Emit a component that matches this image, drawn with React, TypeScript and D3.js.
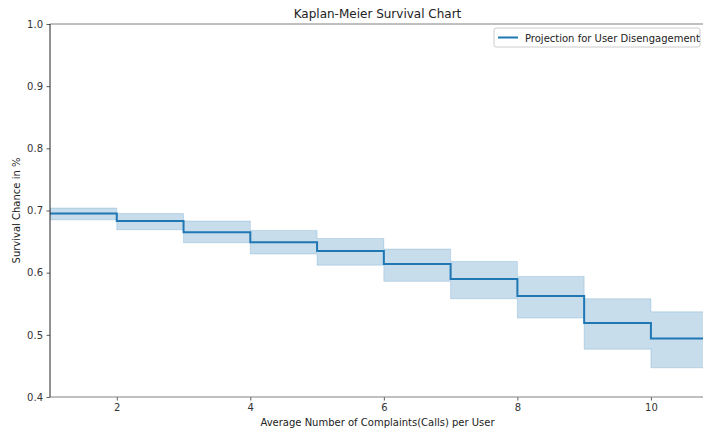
import { useEffect, useRef } from 'react';
import * as d3 from 'd3';

// Kaplan-Meier estimate
const timeline = [1, 2, 3, 4, 5, 6, 7, 8, 9, 10, 11];
const survival = [0.695, 0.683, 0.665, 0.649, 0.635, 0.614, 0.590, 0.5625, 0.519, 0.494, 0.494];
const ciUpper = [0.704, 0.695, 0.683, 0.668, 0.655, 0.638, 0.618, 0.594, 0.558, 0.537, 0.537];
const ciLower = [0.685, 0.669, 0.648, 0.630, 0.612, 0.586, 0.558, 0.527, 0.477, 0.447, 0.447];
const xTicks = [2, 4, 6, 8, 10];
const yTicks = [0.4, 0.5, 0.6, 0.7, 0.8, 0.9, 1.0];
const seriesLabel = 'Projection for User Disengagement';

const C0 = '#1f77b4';
const FONT = 'DejaVu Sans, sans-serif';

export default function App() {
  const svgRef = useRef<SVGSVGElement>(null);

  useEffect(() => {
    const svg = d3.select(svgRef.current);
    svg.selectAll('*').remove();

    const W = 703;
    const H = 431;
    const left = 50, right = 705, top = 24, bottom = 397;

    const x = d3.scaleLinear().domain([1, 10.78]).range([left, 703]);
    const y = d3.scaleLinear().domain([0.4, 1.0]).range([bottom, top]);

    svg.attr('width', W).attr('height', H);

    svg.append('rect').attr('width', W).attr('height', H).attr('fill', '#fff');

    svg.append('defs').append('clipPath').attr('id', 'plot-clip')
      .append('rect').attr('x', left).attr('y', top)
      .attr('width', right - left).attr('height', bottom - top);

    const rows = timeline.map((t, i) => ({ t, s: survival[i], hi: ciUpper[i], lo: ciLower[i] }));

    const plot = svg.append('g').attr('clip-path', 'url(#plot-clip)');

    // confidence band
    const band = d3.area<any>()
      .x(d => x(d.t))
      .y0(d => y(d.lo))
      .y1(d => y(d.hi))
      .curve(d3.curveStepAfter);

    plot.append('path')
      .datum(rows)
      .attr('d', band)
      .attr('fill', C0)
      .attr('fill-opacity', 0.25)
      .attr('stroke', C0)
      .attr('stroke-opacity', 0.2)
      .attr('stroke-width', 1);

    // survival line
    const line = d3.line<any>()
      .x(d => x(d.t))
      .y(d => y(d.s))
      .curve(d3.curveStepAfter);

    plot.append('path')
      .datum(rows)
      .attr('d', line)
      .attr('fill', 'none')
      .attr('stroke', C0)
      .attr('stroke-width', 2);

    // axes
    const xAxis = svg.append('g')
      .attr('transform', `translate(0,${bottom})`)
      .call(d3.axisBottom(x).tickValues(xTicks).tickSize(3.5).tickPadding(3.5).tickFormat(d3.format('d')));
    const yAxis = svg.append('g')
      .attr('transform', `translate(${left},0)`)
      .call(d3.axisLeft(y).tickValues(yTicks).tickSize(3.5).tickPadding(3.5).tickFormat(d3.format('.1f')));

    [xAxis, yAxis].forEach(g => {
      g.select('.domain').remove();
      g.selectAll('.tick line').attr('stroke', '#333').attr('stroke-width', 0.8);
      g.selectAll('.tick text')
        .attr('fill', '#333')
        .style('font-family', FONT)
        .style('font-size', '10px');
    });

    // spines
    svg.append('line').attr('x1', left).attr('x2', right).attr('y1', top).attr('y2', top)
      .attr('stroke', '#808080').attr('stroke-width', 1);
    svg.append('line').attr('x1', left).attr('x2', right).attr('y1', bottom).attr('y2', bottom)
      .attr('stroke', '#808080').attr('stroke-width', 1);
    svg.append('line').attr('x1', left).attr('x2', left).attr('y1', top).attr('y2', bottom)
      .attr('stroke', '#222').attr('stroke-width', 1);

    // title and labels
    svg.append('text')
      .attr('x', (left + right) / 2).attr('y', 18)
      .attr('text-anchor', 'middle')
      .style('font-family', FONT).style('font-size', '12px').attr('fill', '#222')
      .text('Kaplan-Meier Survival Chart');

    svg.append('text')
      .attr('x', (left + right) / 2).attr('y', 426)
      .attr('text-anchor', 'middle')
      .style('font-family', FONT).style('font-size', '10px').attr('fill', '#222')
      .text('Average Number of Complaints(Calls) per User');

    svg.append('text')
      .attr('transform', `translate(20,${(top + bottom) / 2}) rotate(-90)`)
      .attr('text-anchor', 'middle')
      .style('font-family', FONT).style('font-size', '10px').attr('fill', '#222')
      .text('Survival Chance in %');

    // legend
    const lg = svg.append('g').attr('transform', 'translate(494,28)');
    lg.append('rect').attr('width', 206).attr('height', 19).attr('rx', 2)
      .attr('fill', '#fff').attr('fill-opacity', 0.8)
      .attr('stroke', '#ccc').attr('stroke-width', 1);
    lg.append('line').attr('x1', 4).attr('x2', 24).attr('y1', 9.5).attr('y2', 9.5)
      .attr('stroke', C0).attr('stroke-width', 2);
    lg.append('text').attr('x', 31).attr('y', 13.5)
      .style('font-family', FONT).style('font-size', '10px').attr('fill', '#222')
      .text(seriesLabel);
  }, []);

  return (
    <div style={{ position: 'absolute', left: 0, top: 0 }}>
      <svg ref={svgRef} style={{ display: 'block' }}></svg>
    </div>
  );
}
